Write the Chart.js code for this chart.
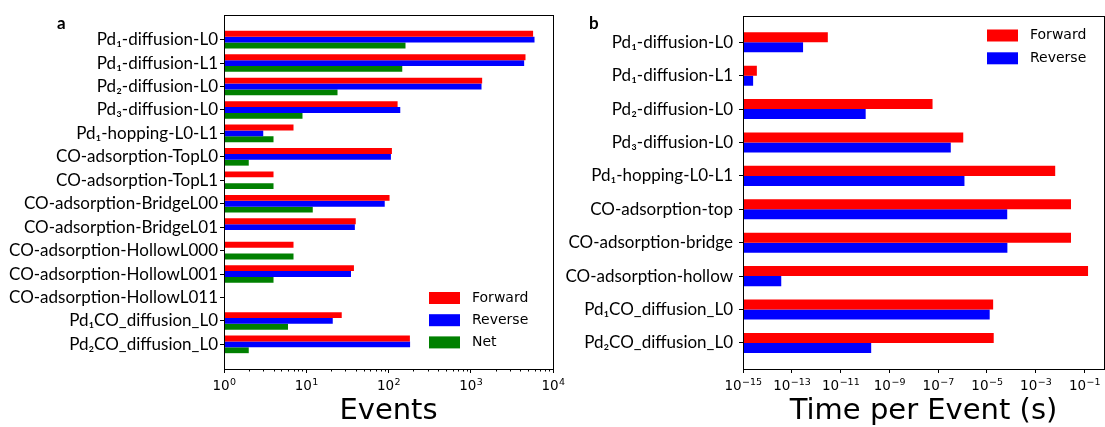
<!DOCTYPE html>
<html>
<head>
<meta charset="utf-8">
<script src="https://cdn.jsdelivr.net/npm/chart.js@4.4.0/dist/chart.umd.min.js"></script>
<style>
  html, body { margin: 0; padding: 0; background: #fff; }
  #wrap { position: relative; width: 1105px; height: 427px; overflow: hidden; }
  canvas { position: absolute; top: 0; }
  #eventsChart { left: 0; }
  #timeChart { left: 560px; }
</style>
</head>
<body>
<div id="wrap">
  <canvas id="eventsChart" width="585" height="427"></canvas>
  <canvas id="timeChart" width="545" height="427"></canvas>
</div>
<script>
// panel a: number of events per process
const eventLabels = [
  'Pd₁-diffusion-L0', 'Pd₁-diffusion-L1', 'Pd₂-diffusion-L0', 'Pd₃-diffusion-L0',
  'Pd₁-hopping-L0-L1', 'CO-adsorption-TopL0', 'CO-adsorption-TopL1',
  'CO-adsorption-BridgeL00', 'CO-adsorption-BridgeL01', 'CO-adsorption-HollowL000',
  'CO-adsorption-HollowL001', 'CO-adsorption-HollowL011',
  'Pd₁CO_diffusion_L0', 'Pd₂CO_diffusion_L0'
];
const eventsForward = [5730, 4630, 1376, 129, 7, 110, 4, 103, 40, 7, 38, null, 27, 182];
const eventsReverse = [5960, 4460, 1352, 139, 3, 107, null, 90, 39, null, 35, null, 21, 183];
const eventsNet = [161, 147, 24, 9, 4, 2, 4, 12, null, 7, 4, null, 6, 2];
const eventTicks = [1, 10, 100, 1000, 10000];
const eventTickExps = ['0', '1', '2', '3', '4'];

// panel b: time per event
const timeLabels = [
  'Pd₁-diffusion-L0', 'Pd₁-diffusion-L1', 'Pd₂-diffusion-L0', 'Pd₃-diffusion-L0',
  'Pd₁-hopping-L0-L1', 'CO-adsorption-top', 'CO-adsorption-bridge',
  'CO-adsorption-hollow', 'Pd₁CO_diffusion_L0', 'Pd₂CO_diffusion_L0'
];
const timeForward = [3e-12, 3.7e-15, 5.9e-8, 1.07e-6, 6.3e-3, 2.8e-2, 2.8e-2, 0.14, 1.8e-5, 1.9e-5];
const timeReverse = [2.9e-13, 2.6e-15, 1.07e-10, 3.3e-7, 1.2e-6, 6.8e-5, 6.9e-5, 3.7e-14, 1.3e-5, 1.8e-10];
const timeTicks = [1e-15, 1e-13, 1e-11, 1e-9, 1e-7, 1e-5, 1e-3, 1e-1];
const timeTickExps = ['−15', '−13', '−11', '−9', '−7', '−5', '−3', '−1'];

Chart.defaults.color = '#000';
Chart.defaults.font.family = 'DejaVu Sans';

// frame, minor ticks, 10^n tick labels, legend and panel letter
const extras = {
  id: 'extras',
  afterDatasetsDraw(chart, args, opts) {
    const { ctx, chartArea: a } = chart;
    const xs = chart.scales.x;
    ctx.save();
    ctx.strokeStyle = '#000';
    ctx.lineWidth = 1;
    ctx.strokeRect(Math.round(a.left) + 0.5, Math.round(a.top) + 0.5,
      Math.round(a.right - a.left), Math.round(a.bottom - a.top));

    if (opts.minor) {
      opts.minor.forEach(v => {
        const px = Math.round(xs.getPixelForValue(v)) + 0.5;
        ctx.beginPath();
        ctx.moveTo(px, a.bottom);
        ctx.lineTo(px, a.bottom + 2.5);
        ctx.stroke();
      });
    }

    // tick labels as 10 with a raised exponent
    ctx.fillStyle = '#000';
    ctx.textAlign = 'left';
    ctx.textBaseline = 'alphabetic';
    xs.ticks.forEach((t, i) => {
      const px = xs.getPixelForValue(t.value);
      ctx.font = '13.5px "DejaVu Sans"';
      const wb = ctx.measureText('10').width;
      ctx.font = '9.5px "DejaVu Sans"';
      const we = ctx.measureText(opts.exps[i]).width;
      const x0 = px - (wb + we) / 2;
      ctx.font = '13.5px "DejaVu Sans"';
      ctx.fillText('10', x0, a.bottom + 20.5);
      ctx.font = '9.5px "DejaVu Sans"';
      ctx.fillText(opts.exps[i], x0 + wb + 0.5, a.bottom + 15.5);
    });

    const lg = opts.legend;
    ctx.font = '14px "DejaVu Sans"';
    ctx.textBaseline = 'middle';
    chart.data.datasets.forEach((ds, i) => {
      const y = lg.y + i * lg.gap;
      ctx.fillStyle = ds.backgroundColor;
      ctx.fillRect(lg.x, y, 31, 12);
      ctx.fillStyle = '#000';
      ctx.fillText(ds.label, lg.x + 43, y + 6);
    });

    ctx.font = 'bold 17px Lato';
    ctx.textBaseline = 'alphabetic';
    ctx.fillText(opts.letter, opts.letterX, 28.5);
    ctx.restore();
  }
};

function buildChart(id, cfg) {
  const toPoints = arr => arr.map((v, i) => ({ x: v, y: i }));
  const colors = ['#ff0000', '#0000ff', '#008000'];
  return new Chart(document.getElementById(id), {
    type: 'bar',
    data: {
      datasets: cfg.series.map((s, i) => ({
        label: s.label,
        data: toPoints(s.data),
        backgroundColor: colors[i],
        borderWidth: 0,
        categoryPercentage: cfg.groupWidth,
        barPercentage: 1.0
      }))
    },
    options: {
      indexAxis: 'y',
      responsive: false,
      animation: false,
      layout: { padding: { top: 15, right: cfg.padRight, left: 0, bottom: 0 } },
      plugins: {
        legend: { display: false },
        tooltip: { enabled: false },
        extras: cfg.extras
      },
      scales: {
        x: {
          type: 'logarithmic',
          min: cfg.xMin,
          max: cfg.xMax,
          offset: false,
          afterBuildTicks: scale => { scale.ticks = cfg.ticks.map(v => ({ value: v, major: true })); },
          afterFit: scale => { scale.height = 58; },
          ticks: { display: false },
          grid: { offset: false, drawOnChartArea: false, drawTicks: true, tickLength: 4, tickColor: '#000' },
          border: { display: false },
          title: {
            display: true,
            text: cfg.xTitle,
            font: { size: 29, family: 'DejaVu Sans', lineHeight: 1 },
            padding: { top: 0, bottom: 1.5 }
          }
        },
        y: {
          type: 'linear',
          reverse: true,
          offset: false,
          min: cfg.yMin,
          max: cfg.yMax,
          afterBuildTicks: scale => { scale.ticks = cfg.labels.map((_, i) => ({ value: i })); },
          afterFit: scale => { scale.width = cfg.yWidth; },
          ticks: {
            autoSkip: false,
            padding: cfg.labelPad,
            font: { size: 17, family: 'Lato' },
            callback: v => cfg.labels[v]
          },
          grid: { offset: false, drawOnChartArea: false, drawTicks: true, tickLength: 4, tickColor: '#000' },
          border: { display: false }
        }
      }
    },
    plugins: [extras]
  });
}

const minorEvents = [];
[1, 10, 100, 1000].forEach(d => { for (let k = 2; k <= 9; k++) minorEvents.push(d * k); });

buildChart('eventsChart', {
  labels: eventLabels,
  series: [
    { label: 'Forward', data: eventsForward },
    { label: 'Reverse', data: eventsReverse },
    { label: 'Net', data: eventsNet }
  ],
  groupWidth: 0.75,
  xMin: 1, xMax: 10000,
  yMin: -1.05, yMax: 14.05,
  ticks: eventTicks,
  xTitle: 'Events',
  yWidth: 224,
  labelPad: 2,
  padRight: 32,
  extras: { minor: minorEvents, exps: eventTickExps, legend: { x: 429, y: 292, gap: 22.2 }, letter: 'a', letterX: 57 }
});

buildChart('timeChart', {
  labels: timeLabels,
  series: [
    { label: 'Forward', data: timeForward },
    { label: 'Reverse', data: timeReverse }
  ],
  groupWidth: 0.6,
  xMin: 1e-15, xMax: Math.pow(10, -0.2),
  yMin: -0.78, yMax: 9.78,
  ticks: timeTicks,
  xTitle: 'Time per Event (s)',
  yWidth: 183,
  labelPad: 6,
  padRight: 1,
  extras: { exps: timeTickExps, legend: { x: 427, y: 29.5, gap: 22.8 }, letter: 'b', letterX: 29 }
});
</script>
</body>
</html>
